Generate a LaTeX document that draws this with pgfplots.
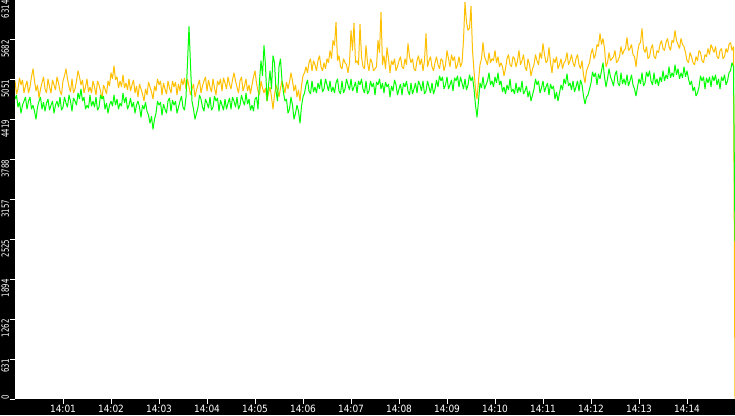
\documentclass[border=0pt]{standalone}
\usepackage{pgfplots}
\pgfplotsset{compat=1.18}
\usepackage{pgfplotstable}
\usepackage{fontspec}
\setmainfont{DejaVu Sans}
\newfontfamily\xfont[FakeStretch=0.9]{DejaVu Sans}
\newfontfamily\yfont[FakeStretch=0.7]{DejaVu Sans}
\definecolor{ora}{RGB}{255,192,0}
\definecolor{grn}{RGB}{0,255,0}
\pgfplotstableread{
o g
5034 4746
4826 4810
4906 4618
5082 4698
4970 4522
5050 4650
4842 4714
4954 4778
5034 4586
4842 4714
4938 4778
5098 4586
5226 4650
5034 4554
4874 4426
4970 4618
4762 4714
4906 4778
5002 4586
5098 4698
4906 4554
4842 4682
5066 4746
4938 4570
4842 4650
5050 4714
4970 4522
4890 4650
5098 4714
5002 4618
4874 4778
4810 4570
5034 4618
5114 4778
5226 4682
5066 4618
4938 4810
4858 4714
5066 4554
4842 4762
4906 4714
5034 4650
5194 4842
5098 4746
4970 4906
5050 4714
4842 4778
4938 4586
5066 4650
4858 4602
4938 4810
4842 4634
5034 4714
4938 4618
4810 4778
5034 4570
4970 4618
4874 4810
4746 4746
4970 4794
4906 4586
4826 4682
5034 4522
4954 4650
5162 4714
5066 4634
5274 4810
5050 4650
5098 4746
4922 4586
5034 4682
4938 4634
5130 4842
4922 4682
5002 4778
4890 4586
5066 4650
4874 4762
4970 4618
5050 4698
4842 4522
4954 4650
4778 4714
4986 4618
4906 4458
4826 4650
4714 4586
4906 4698
4810 4554
5018 4490
4938 4362
4858 4474
4746 4266
4954 4426
4874 4522
5066 4714
4970 4650
5034 4698
4810 4490
5002 4666
4906 4586
4826 4522
5034 4714
4922 4762
4842 4554
5034 4730
4938 4650
5018 4714
4810 4522
4986 4618
4874 4714
5066 4794
4970 4618
5082 4570
4906 4778
5066 5322
4938 5898
4810 5290
4906 4714
4986 4586
4778 4426
4890 4522
4970 4618
5050 4810
4842 4746
4954 4618
5034 4554
5098 4746
4874 4682
5050 4602
4938 4778
4858 4570
5066 4618
4922 4794
4810 4714
5034 4762
4970 4554
5066 4730
4874 4650
5082 4570
5002 4746
4906 4586
5098 4682
4986 4762
4906 4586
5050 4778
5162 4714
5034 4618
4938 4778
4842 4586
5034 4650
5098 4810
4874 4714
4954 4650
5066 4842
4874 4666
4970 4746
4826 4570
4970 4650
5098 4554
5194 4746
5002 4778
4874 4586
4810 5034
5034 5354
4922 5114
4842 5594
4922 5274
4714 4714
4842 4954
4938 5194
4778 4906
4586 5434
4810 5322
4970 4874
4890 4714
4778 5258
4922 5386
5034 5034
4954 4842
4842 4714
5018 4746
4906 4522
5018 4586
5162 4778
5034 4650
4874 4426
4970 4522
4778 4650
4890 4554
4714 4362
4954 4634
5114 4778
5162 4842
5258 4970
5162 5050
5322 4874
5386 4826
5194 5034
5354 4858
5290 4938
5194 4842
5354 5002
5434 4906
5258 5066
5194 4858
5322 4906
5226 5066
5386 4970
5322 4874
5514 5034
5386 4858
5674 4938
5594 4842
5962 5002
5354 5066
5434 4874
5258 4826
5226 5034
5386 4842
5322 4906
5290 5066
5162 4970
5322 4890
5834 5066
5514 4874
5946 4938
5322 5018
5354 4842
5290 5034
5930 4970
5418 5066
5258 4906
5226 4842
5594 5034
5322 4826
5194 4874
5386 5034
5322 4938
5194 5002
5226 4810
5258 5018
5674 4970
5482 5066
6122 4906
5290 5002
5434 4842
5226 5018
5562 4938
5386 4986
5162 4778
5354 4954
5290 4874
5386 5050
5194 4970
5258 4810
5354 4906
5418 4986
5258 4810
5226 5002
5386 4938
5290 5034
5626 4874
5418 4810
5322 5002
5386 4826
5226 4906
5194 5002
5354 4842
5434 5034
5290 4970
5386 4874
5194 5034
5354 4826
5786 4874
5258 5034
5354 4938
5418 4842
5258 5002
5194 4826
5322 4906
5418 5050
5290 4938
5226 5114
5386 5034
5354 5098
5194 4906
5290 4970
5514 5098
5386 4906
5258 4970
5450 5050
5354 4874
5418 5082
5226 5034
5290 5114
5418 4938
5258 5098
5322 5002
5674 4906
6282 5066
5962 4890
5834 4970
5866 5130
6218 5034
5514 5098
5194 4906
4906 4650
4746 4458
5034 4714
5290 5002
5386 4922
5642 5098
5418 4906
5354 4970
5290 5034
5482 5162
5322 4970
5386 5034
5354 4938
5514 5098
5322 5002
5418 5162
5258 4970
5322 5034
5258 4858
5114 4938
5226 4826
5386 4970
5450 4890
5290 5066
5258 4858
5418 4906
5386 4826
5258 5002
5354 4842
5514 4938
5290 4858
5354 5034
5450 4826
5258 4874
5194 4954
5386 4778
5290 4874
5114 4714
5226 4810
5290 4906
5450 5066
5354 4970
5290 5034
5482 4842
5386 4922
5626 5034
5450 4858
5322 4938
5354 5002
5562 4810
5322 4986
5162 4906
5386 4954
5322 4746
5418 4858
5226 4714
5290 4842
5386 4970
5226 4890
5322 5066
5354 4986
5482 5146
5290 4954
5354 5002
5450 4890
5322 5034
5258 4858
5386 4938
5450 5034
5290 4874
5226 5050
5354 4970
5130 4794
5002 4666
5194 4778
5258 4810
5322 4906
5466 5002
5546 5178
5386 5098
5450 5162
5610 4970
5578 5146
5786 5066
5610 5194
5706 5322
5546 5098
5258 4938
5322 5066
5482 5226
5354 5098
5386 5034
5418 4954
5514 5130
5322 5194
5354 5002
5418 4954
5578 5162
5450 4986
5514 5066
5546 4970
5722 5130
5514 4954
5546 5034
5610 5130
5450 4970
5418 4906
5258 4794
5482 4938
5610 5066
5642 4986
5866 5162
5546 4954
5482 5002
5578 5178
5386 5098
5418 5194
5546 5034
5610 4970
5418 5162
5386 4986
5514 5066
5482 4954
5610 5098
5674 5018
5546 5194
5514 5034
5642 5130
5706 5066
5578 5258
5514 5082
5674 5162
5642 5098
5834 5290
5674 5130
5610 5226
5546 5066
5706 5162
5610 5082
5578 5258
5482 5098
5354 5194
5322 5066
5482 4970
5418 5034
5322 4874
5290 4938
5418 4794
5354 4842
5514 4938
5482 5114
5354 5034
5322 5098
5450 4906
5418 5082
5546 5002
5450 5098
5610 4938
5546 5114
5482 5034
5578 5130
5418 4970
5386 5066
5514 4906
5546 5098
5386 5034
5418 5130
5546 4970
5482 5034
5610 5162
5642 5194
5514 5322
5578 5258
0 2490
}\data
\begin{document}
\begin{tikzpicture}
\fill[black] (-15pt,-16pt) rectangle (720pt,399pt);
\begin{axis}[
  at={(0,0)}, anchor=south west,
  scale only axis, width=720pt, height=399pt,
  xmin=0, xmax=15, ymin=0, ymax=6314,
  axis background/.style={fill=white},
  axis line style={draw=none},
  tick align=outside, tick pos=left,
  major tick length=5pt,
  tick style={white, line width=1pt},
  xtick={1,2,3,4,5,6,7,8,9,10,11,12,13,14},
  xticklabels={14:01,14:02,14:03,14:04,14:05,14:06,14:07,14:08,14:09,14:10,14:11,14:12,14:13,14:14},
  ytick={0,631.4,1262.8,1894.2,2525.6,3157,3788.4,4419.8,5051.2,5682.6,6314},
  yticklabels={0\hspace*{-4pt},631,1262,1894,2525,3157,3788,4419,5051,5682,6314},
  ticklabel style={text=white},
  xticklabel style={font=\xfont\fontsize{10}{10}\selectfont, inner ysep=1.3pt},
  yticklabel style={font=\yfont\fontsize{10}{10}\selectfont, rotate=90, anchor=south east, inner xsep=0pt, inner ysep=0.7pt},
  every axis plot/.append style={line width=1pt, line join=bevel, sharp plot},
]
\addplot[ora, no markers] table[x expr=\coordindex/32, y=o]{\data};
\addplot[grn, no markers] table[x expr=\coordindex/32, y=g]{\data};
\end{axis}
\pgfresetboundingbox
\path[use as bounding box] (-15pt,-16pt) rectangle (720pt,399pt);
\end{tikzpicture}
\end{document}
